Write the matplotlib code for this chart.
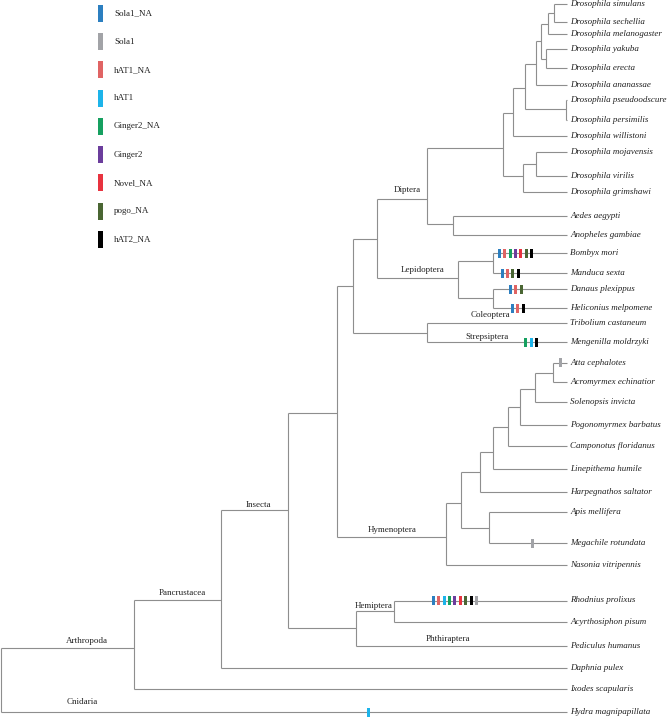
import matplotlib
matplotlib.use('Agg')
import matplotlib.pyplot as plt

plt.rcParams['font.family'] = ['Liberation Serif', 'DejaVu Serif']

# ── TE families (legend) ──────────────────────────────────────────────────────
FAMILIES = ['Sola1_NA', 'Sola1', 'hAT1_NA', 'hAT1', 'Ginger2_NA',
            'Ginger2', 'Novel_NA', 'pogo_NA', 'hAT2_NA']
FAM_COLORS = ['#2c7fc0', '#a2a3a7', '#e06464', '#1db4ea', '#16a060',
              '#6b3d9c', '#e8333f', '#4a6633', '#000000']

# ── leaves: name, y (tree units, top = 0) ────────────────────────────────────
LEAF_NAMES = [
    'Drosophila simulans', 'Drosophila sechellia', 'Drosophila melanogaster',
    'Drosophila yakuba', 'Drosophila erecta', 'Drosophila ananassae',
    'Drosophila pseudoodscure', 'Drosophila persimilis', 'Drosophila willistoni',
    'Drosophila mojavensis', 'Drosophila virilis', 'Drosophila grimshawi',
    'Aedes aegypti', 'Anopheles gambiae', 'Bombyx mori', 'Manduca sexta',
    'Danaus plexippus', 'Heliconius melpomene', 'Tribolium castaneum',
    'Mengenilla moldrzyki', 'Atta cephalotes', 'Acromyrmex echinatior',
    'Solenopsis invicta', 'Pogonomyrmex barbatus', 'Camponotus floridanus',
    'Linepithema humile', 'Harpegnathos saltator', 'Apis mellifera',
    'Megachile rotundata', 'Nasonia vitripennis', 'Rhodnius prolixus',
    'Acyrthosiphon pisum', 'Pediculus humanus', 'Daphnia pulex',
    'Ixodes scapularis', 'Hydra magnipapillata',
]
LEAF_Y = [3.5, 21.7, 34.3, 49.3, 67.7, 85, 100, 120, 135.7, 152.3, 176.3, 192.3,
          215.7, 235, 253.3, 273.3, 289, 308.3, 323.3, 342.3, 362.7, 382.3,
          402.3, 424.7, 446.3, 469, 492.3, 512.3, 543.3, 565, 600.5, 621.7,
          646, 668.3, 689.3, 712.3]
LEAF_X = 567

# ── internal nodes: id -> (depth x, y, children) ─────────────────────────────
NODES = {
    'simsech': (554, 12.6, ['Drosophila simulans', 'Drosophila sechellia']),
    'mel':     (547.7, 24, ['simsech', 'Drosophila melanogaster']),
    'yakere':  (546, 58.5, ['Drosophila yakuba', 'Drosophila erecta']),
    'dA':      (540.7, 41, ['mel', 'yakere']),
    'dB':      (535.7, 64, ['dA', 'Drosophila ananassae']),
    'pp':      (566, 109, ['Drosophila pseudoodscure', 'Drosophila persimilis']),
    'dC':      (525, 88, ['dB', 'pp']),
    'dD':      (513.3, 113, ['dC', 'Drosophila willistoni']),
    'mojvir':  (535.7, 164.3, ['Drosophila mojavensis', 'Drosophila virilis']),
    'dG':      (523.3, 176, ['mojvir', 'Drosophila grimshawi']),
    'dros':    (503.3, 148.3, ['dD', 'dG']),
    'mosq':    (453.3, 224.3, ['Aedes aegypti', 'Anopheles gambiae']),
    'diptera': (426.7, 199.3, ['dros', 'mosq']),
    'bommand': (493.3, 261, ['Bombyx mori', 'Manduca sexta']),
    'danhel':  (493.3, 297.5, ['Danaus plexippus', 'Heliconius melpomene']),
    'lepid':   (457.5, 278, ['bommand', 'danhel']),
    'dl':      (377.3, 239, ['diptera', 'lepid']),
    'colstr':  (426.7, 332.7, ['Tribolium castaneum', 'Mengenilla moldrzyki']),
    'holo':    (353.3, 285.7, ['dl', 'colstr']),
    'attacro': (552.7, 372.7, ['Atta cephalotes', 'Acromyrmex echinatior']),
    'h1':      (535.3, 389, ['attacro', 'Solenopsis invicta']),
    'h2':      (520.3, 407.3, ['h1', 'Pogonomyrmex barbatus']),
    'h3':      (507.7, 427.3, ['h2', 'Camponotus floridanus']),
    'h4':      (492.7, 451.7, ['h3', 'Linepithema humile']),
    'h5':      (480.3, 472.3, ['h4', 'Harpegnathos saltator']),
    'apimeg':  (489.3, 528.3, ['Apis mellifera', 'Megachile rotundata']),
    'h6':      (461.3, 502.7, ['h5', 'apimeg']),
    'hymen':   (446.3, 537.3, ['h6', 'Nasonia vitripennis']),
    'endo':    (337.3, 412.7, ['holo', 'hymen']),
    'rhoacy':  (394.3, 611, ['Rhodnius prolixus', 'Acyrthosiphon pisum']),
    'hemphth': (356, 628.3, ['rhoacy', 'Pediculus humanus']),
    'insecta': (287.7, 510, ['endo', 'hemphth']),
    'pancrus': (221, 600.3, ['insecta', 'Daphnia pulex']),
    'arthro':  (134.3, 648.3, ['pancrus', 'Ixodes scapularis']),
    'root':    (0.7, 680, ['arthro', 'Hydra magnipapillata']),
}

# ── clade labels: text, x, y ──────────────────────────────────────────────────
CLADE_TEXT = ['Diptera', 'Lepidoptera', 'Coleoptera', 'Strepsiptera', 'Hymenoptera',
              'Insecta', 'Hemiptera', 'Phthiraptera', 'Pancrustacea', 'Arthropoda',
              'Cnidaria']
CLADE_X = [407.7, 422.7, 490, 486.7, 391.7, 258.7, 373.3, 448.3, 182, 87.3, 82.3]
CLADE_Y = [190, 270, 315, 336.7, 530, 505, 605.7, 639, 592.7, 641, 702.3]

# ── TE hits on terminal branches: leaf, first x, family list ──────────────────
HIT_LEAVES = ['Bombyx mori', 'Manduca sexta', 'Danaus plexippus',
              'Heliconius melpomene', 'Mengenilla moldrzyki', 'Atta cephalotes',
              'Megachile rotundata', 'Rhodnius prolixus', 'Hydra magnipapillata']
HIT_START = [499.3, 502, 510.5, 512.5, 525.7, 560, 532.7, 433.3, 368.3]
HIT_FAMS = [
    ['Sola1_NA', 'hAT1_NA', 'Ginger2_NA', 'Ginger2', 'Novel_NA', 'pogo_NA', 'hAT2_NA'],
    ['Sola1_NA', 'hAT1_NA', 'pogo_NA', 'hAT2_NA'],
    ['Sola1_NA', 'hAT1_NA', 'pogo_NA'],
    ['Sola1_NA', 'hAT1_NA', 'hAT2_NA'],
    ['Ginger2_NA', 'hAT1', 'hAT2_NA'],
    ['Sola1'],
    ['Sola1'],
    ['Sola1_NA', 'hAT1_NA', 'hAT1', 'Ginger2_NA', 'Ginger2', 'Novel_NA',
     'pogo_NA', 'hAT2_NA', 'Sola1'],
    ['hAT1'],
]
HIT_STEP = 5.4

LINE_C = '#8e8e8e'
LW = 0.8
FS = 6.5

fig = plt.figure(figsize=(6.67, 7.17), dpi=100)
ax = fig.add_axes([0, 0, 1, 1])
ax.set_xlim(0, 667)
ax.set_ylim(717, 0)
ax.axis('off')

leaf_y = dict(zip(LEAF_NAMES, LEAF_Y))


def pos(name):
    if name in NODES:
        return NODES[name][0], NODES[name][1]
    return LEAF_X, leaf_y[name]


# branches
for nid, (x, y, kids) in NODES.items():
    ys = [pos(k)[1] for k in kids]
    ax.plot([x, x], [min(ys), max(ys)], color=LINE_C, lw=LW, solid_capstyle='butt')
    for k in kids:
        kx, ky = pos(k)
        ax.plot([x, kx], [ky, ky], color=LINE_C, lw=LW, solid_capstyle='butt')

# leaf names
for name, y in zip(LEAF_NAMES, LEAF_Y):
    ax.text(LEAF_X + 3, y, name, style='italic', fontsize=FS,
            va='center', ha='left', color='#222222')

# clade names
for t, x, y in zip(CLADE_TEXT, CLADE_X, CLADE_Y):
    ax.text(x, y, t, fontsize=FS, ha='center', va='center', color='#222222')

# TE hit bars
fam_color = dict(zip(FAMILIES, FAM_COLORS))
for leaf, x0, fams in zip(HIT_LEAVES, HIT_START, HIT_FAMS):
    y = leaf_y[leaf]
    xs = [x0 + i * HIT_STEP for i in range(len(fams))]
    ax.bar(xs, 9, width=3, bottom=y - 4.5, color=[fam_color[f] for f in fams],
           edgecolor='none', zorder=3)

# legend
LEG_Y = [13.3 + i * 28.25 for i in range(len(FAMILIES))]
ax.bar([100.8] * len(FAMILIES), 17, width=5, bottom=[y - 8.5 for y in LEG_Y],
       color=FAM_COLORS, edgecolor='none')
for fam, y in zip(FAMILIES, LEG_Y):
    ax.text(114, y, fam, fontsize=FS, va='center', ha='left', color='#222222')

plt.savefig('out.png', dpi=100)
